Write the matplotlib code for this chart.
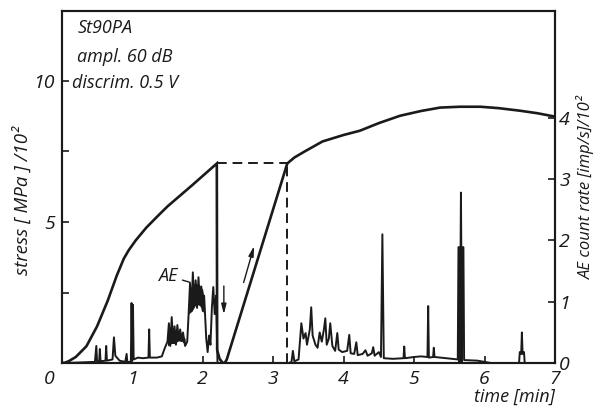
import matplotlib
matplotlib.use("Agg")
import matplotlib.pyplot as plt

# stress curve (left axis, MPa/100)
stress_t = [0.00, 0.05, 0.10, 0.20, 0.35, 0.50, 0.65, 0.78, 0.88, 0.95, 1.05, 1.20, 1.35, 1.50, 1.85, 2.20,
            2.205, 2.24, 2.28, 2.31, 2.34, 3.20, 3.30, 3.45, 3.70, 4.00, 4.23, 4.50, 4.80,
            5.10, 5.37, 5.65, 5.94, 6.20, 6.50, 6.75, 7.00]
stress_v = [0.00, 0.02, 0.07, 0.22, 0.60, 1.30, 2.20, 3.10, 3.70, 4.00, 4.35, 4.80, 5.18, 5.55, 6.30, 7.07,
            0.46, 0.15, 0.02, 0.00, 0.12, 7.07, 7.28, 7.50, 7.85, 8.08, 8.23, 8.50, 8.76,
            8.93, 9.05, 9.08, 9.08, 9.03, 8.94, 8.85, 8.73]

# AE count rate (right axis, imp/s /100)
ae_t = [0.00, 0.47, 0.49, 0.50, 0.53, 0.54, 0.55, 0.62, 0.63, 0.64, 0.72, 0.74, 0.76, 0.82, 0.90, 0.92, 0.93, 0.98,
        0.99, 1.00, 1.01, 1.02, 1.08, 1.15, 1.23, 1.24, 1.25, 1.35, 1.42, 1.46,
        1.50, 1.52, 1.54, 1.56, 1.58, 1.60, 1.62, 1.64, 1.66, 1.68, 1.70, 1.72, 1.75, 1.78,
        1.80, 1.82, 1.84, 1.86, 1.88, 1.90, 1.92, 1.94, 1.96, 1.98, 2.00, 2.02, 2.05, 2.07, 2.09, 2.11, 2.13, 2.15, 2.17, 2.19, 2.21,
        3.22, 3.26, 3.28, 3.30, 3.36, 3.40, 3.43, 3.46, 3.48, 3.52, 3.54, 3.56, 3.60, 3.63, 3.66, 3.69, 3.72, 3.74, 3.76, 3.79, 3.81, 3.84,
        3.88, 3.91, 3.93, 3.98, 4.05, 4.08, 4.10, 4.15, 4.18, 4.20, 4.27, 4.31, 4.34, 4.40, 4.42, 4.44, 4.50, 4.53, 4.55, 4.57,
        4.70, 4.85, 4.86, 4.87, 5.00, 5.10, 5.19, 5.20, 5.21, 5.27, 5.28, 5.29, 5.45, 5.62,
        5.63, 5.66, 5.665, 5.67, 5.70, 5.71, 5.90, 6.00, 6.10, 6.49, 6.50, 6.52, 6.53, 6.54, 6.56, 6.57, 7.00]
ae_v = [0.00, 0.02, 0.28, 0.03, 0.03, 0.23, 0.03, 0.04, 0.28, 0.04, 0.06, 0.42, 0.12, 0.04, 0.02, 0.15, 0.02, 0.02,
        0.98, 0.05, 0.95, 0.06, 0.09, 0.08, 0.09, 0.55, 0.09, 0.09, 0.11, 0.24,
        0.35, 0.65, 0.28, 0.75, 0.33, 0.60, 0.30, 0.62, 0.38, 0.55, 0.36, 0.50, 0.28, 0.35,
        0.80, 1.30, 0.85, 1.48, 0.95, 1.35, 0.90, 1.40, 0.95, 1.25, 0.85, 1.10, 0.40, 0.18, 0.45, 0.30, 0.90, 1.24, 0.80, 1.10, 0.00,
        0.00, 0.02, 0.20, 0.03, 0.06, 0.65, 0.40, 0.49, 0.30, 0.55, 0.91, 0.45, 0.30, 0.25, 0.50, 0.35, 0.55, 0.73, 0.30, 0.40, 0.65, 0.28,
        0.20, 0.49, 0.22, 0.18, 0.20, 0.46, 0.16, 0.15, 0.34, 0.13, 0.15, 0.21, 0.12, 0.16, 0.26, 0.12, 0.18, 0.10, 2.10, 0.08,
        0.07, 0.08, 0.27, 0.08, 0.10, 0.11, 0.10, 0.93, 0.09, 0.10, 0.25, 0.10, 0.08, 0.06,
        1.89, 1.89, 2.78, 1.89, 1.89, 0.05, 0.04, 0.02, 0.00, 0.00, 0.18, 0.15, 0.50, 0.15, 0.18, 0.00, 0.00]

# dense AE bursts (envelopes)
burst1_t = [1.50, 1.55, 1.60, 1.65, 1.70, 1.75]
burst1_lo = [0.28, 0.32, 0.32, 0.36, 0.36, 0.30]
burst1_hi = [0.50, 0.58, 0.55, 0.52, 0.48, 0.40]
burst2_t = [1.80, 1.85, 1.90, 1.95, 2.00, 2.02]
burst2_lo = [0.80, 0.85, 0.95, 0.95, 0.85, 0.80]
burst2_hi = [1.15, 1.28, 1.30, 1.28, 1.20, 1.05]
burst3_t = [5.63, 5.70]
burst3_hi = [1.89, 1.89]

ink = "#1a1a1a"
plt.rcParams["font.family"] = ["Open Sans", "DejaVu Sans"]
plt.rcParams["font.style"] = "italic"

fig = plt.figure(figsize=(6, 4.08), dpi=100)
ax = fig.add_axes([0.103, 0.110, 0.822, 0.863])
ax2 = ax.twinx()

ax.plot(stress_t, stress_v, color=ink, lw=1.9, solid_joinstyle="miter")
# unloading marker lines
ax.plot([2.20, 3.20], [7.07, 7.07], color=ink, lw=1.4, ls=(0, (5, 3)))
ax.plot([3.20, 3.20], [0, 7.07], color=ink, lw=1.4, ls=(0, (5, 3)))

ax2.plot(ae_t, ae_v, color=ink, lw=1.4)
ax2.fill_between(burst1_t, burst1_lo, burst1_hi, color=ink, lw=0)
ax2.fill_between(burst2_t, burst2_lo, burst2_hi, color=ink, lw=0)
ax2.fill_between(burst3_t, 0, burst3_hi, color=ink, lw=0)

ax.set_xlim(0, 7)
ax.set_ylim(0, 12.47)
ax2.set_ylim(0, 5.74)

ax.set_xticks(range(8))
ax.set_xticklabels(["", "1", "2", "3", "4", "5", "6", "7"])
ax.set_yticks([0, 2.5, 5, 7.5, 10])
ax.set_yticklabels(["", "", "5", "", "10"])
ax2.set_yticks([0, 1, 2, 3, 4])

for a in (ax, ax2):
    for s in a.spines.values():
        s.set_linewidth(1.5)
        s.set_color(ink)
ax.tick_params(direction="in", length=5, width=1.2, labelsize=14, pad=5, colors=ink)
ax2.tick_params(direction="in", length=5, width=1.2, labelsize=14, pad=3, colors=ink)

ax.annotate("0", xy=(0, 0), xytext=(-9, -5), textcoords="offset points",
            ha="center", va="top", fontsize=14, color=ink)

ax.set_ylabel("stress [ MPa ] /10²", fontsize=13.5, color=ink)
ax.yaxis.set_label_coords(-0.061, 0.46)
ax2.set_ylabel("AE count rate [imp/s]/10²", fontsize=12, color=ink, rotation=90)
ax2.yaxis.set_label_coords(1.045, 0.50)
ax.set_xlabel("time [min]", fontsize=13, color=ink, loc="right", labelpad=0)

ax.text(0.22, 11.7, "St90PA", fontsize=13, color=ink)
ax.text(0.22, 10.65, "ampl. 60 dB", fontsize=13, color=ink)
ax.text(0.15, 9.75, "discrim. 0.5 V", fontsize=13, color=ink)

ax.annotate("AE", xy=(1.86, 2.83), xytext=(1.36, 3.1), fontsize=13, color=ink,
            va="center", arrowprops=dict(arrowstyle="-", color=ink, lw=1.0))

ax.annotate("", xy=(2.30, 1.63), xytext=(2.30, 2.83),
            arrowprops=dict(arrowstyle="-|>,head_length=0.6,head_width=0.15", color=ink, lw=1.0))
ax.annotate("", xy=(2.74, 4.24), xytext=(2.57, 2.76),
            arrowprops=dict(arrowstyle="-|>,head_length=0.6,head_width=0.15", color=ink, lw=1.0))

fig.savefig("out.png", dpi=100)
